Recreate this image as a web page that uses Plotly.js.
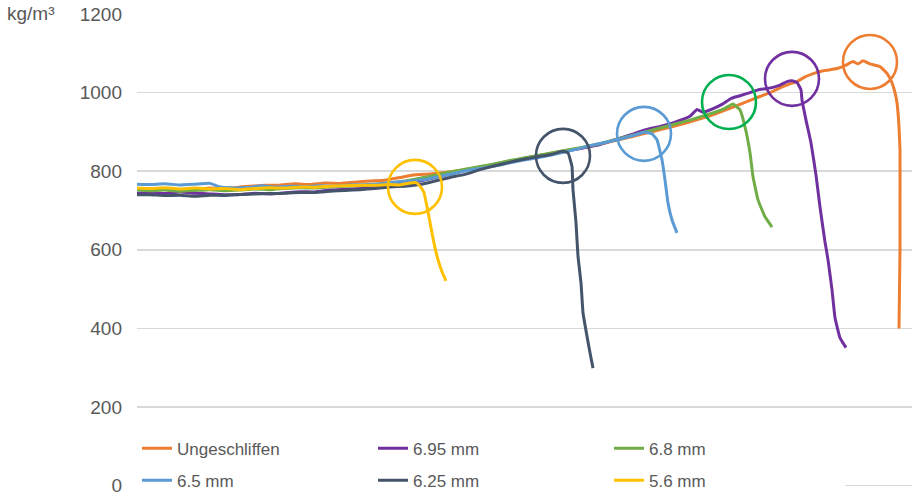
<!DOCTYPE html>
<html>
<head>
<meta charset="utf-8">
<script src="https://cdn.plot.ly/plotly-3.0.1.min.js"></script>
<style>
  html, body { margin: 0; padding: 0; background: #fff; }
  #chart { width: 917px; height: 497px; }
</style>
</head>
<body>
<div id="chart"></div>
<script>
// density profiles, position along the sample (no unit shown on the chart)
var seriesNames = ['Ungeschliffen', '6.95 mm', '6.8 mm', '6.5 mm', '6.25 mm', '5.6 mm'];

var posUngeschliffen = [0,13,28,43,58,73,88,103,113,128,143,158,173,188,203,218,233,248,263,278,293,308,323,338,353,368,383,398,413,428,443,458,473,488,503,518,533,548,563,578,593,608,623,633,643,653,660,668,677,685,693,701,709,716,721,726,733,743,750,755,758,760,762,763,763,763,762];
var rhoUngeschliffen = [755,754,756,752,754,757,755,760,762,764,765,768,766,770,769,772,775,777,784,791,793,797,802,808,814,822,830,838,845,852,858,866,875,884,893,902,912,922,933,945,960,975,990,1000,1012,1022,1028,1040,1049,1055,1058,1062,1070,1079,1073,1081,1073,1066,1049,1025,1000,974,913,854,720,600,400];

var pos695 = [0,13,28,43,58,73,88,103,118,133,148,163,178,193,208,223,238,253,268,283,298,313,328,343,358,373,388,403,418,433,448,463,478,493,508,523,538,553,560,566,575,585,594,603,613,621,629,637,643,650,655,660,664,665,669,674,679,683,688,691,695,698,703,709];
var rho695 = [744,745,743,747,744,742,740,741,744,742,745,748,747,752,754,756,758,762,768,775,784,793,802,810,818,826,833,840,846,853,860,868,880,892,905,914,925,940,957,950,958,970,985,992,1000,1007,1010,1014,1019,1028,1030,1026,1007,981,930,872,790,709,620,575,498,427,376,351];

var pos68 = [0,13,28,43,58,73,88,103,118,133,148,163,178,193,208,223,238,253,268,283,298,313,328,343,358,373,388,403,418,433,448,463,478,493,508,523,538,553,568,578,588,596,603,608,613,616,621,628,635];
var rho68 = [752,750,752,749,751,753,750,752,755,753,756,758,757,760,762,763,766,770,775,782,790,798,805,812,819,827,834,841,848,855,862,870,880,890,900,910,920,930,942,950,960,971,956,913,847,786,727,684,658];

var pos65 = [0,13,28,43,58,73,83,98,113,125,138,153,168,183,198,213,228,243,258,273,288,303,318,333,348,363,378,393,408,423,438,453,468,483,498,508,515,520,525,528,531,535,540];
var rho65 = [767,766,768,765,767,769,760,757,759,763,760,762,761,763,762,765,766,768,772,775,779,787,795,803,809,816,824,831,838,846,855,865,873,882,892,900,895,880,829,778,719,676,643];

var pos625 = [0,13,28,43,58,73,88,103,118,133,148,163,178,193,208,223,238,253,268,283,298,313,328,343,358,373,388,403,413,421,425,431,435,436,439,441,444,446,450,453,456];
var rho625 = [740,740,738,739,736,739,738,741,742,743,744,746,746,749,751,753,756,760,762,766,775,784,792,804,814,823,831,838,842,848,851,847,812,753,669,583,516,440,380,338,299];

var pos56 = [0,13,28,43,58,73,88,103,118,133,148,163,178,193,208,223,238,253,263,273,279,283,287,290,295,298,301,305,309];
var rho56 = [757,756,758,755,757,755,756,753,756,758,757,760,759,762,763,764,764,766,765,770,771,762,745,710,643,605,575,544,521];

// where each profile breaks off (circled on the chart)
var breakPos = [733, 655, 592, 507, 426, 278];
var breakRho = [1078, 1035, 976, 895, 839, 760];

var yTicks = [0, 200, 400, 600, 800, 1000, 1200];

var lineColors = ['#ED7D31', '#7030A0', '#70AD47', '#5B9BD5', '#44546A', '#FFC000'];
var circleColors = ['#ED7D31', '#7030A0', '#00B050', '#5B9BD5', '#44546A', '#FFC000'];

var xs = [posUngeschliffen, pos695, pos68, pos65, pos625, pos56];
var ys = [rhoUngeschliffen, rho695, rho68, rho65, rho625, rho56];

var traces = [];
for (var i = 0; i < seriesNames.length; i++) {
    traces.push({
        x: xs[i],
        y: ys[i],
        name: seriesNames[i],
        type: 'scatter',
        mode: 'lines',
        line: { color: lineColors[i], width: 3, shape: 'spline', smoothing: 0.3 },
        hoverinfo: 'skip',
        legend: i < 3 ? 'legend' : 'legend2'
    });
}
for (var j = 0; j < breakPos.length; j++) {
    traces.push({
        x: [breakPos[j]],
        y: [breakRho[j]],
        type: 'scatter',
        mode: 'markers',
        showlegend: false,
        hoverinfo: 'skip',
        marker: {
            symbol: 'circle-open',
            size: 54,
            color: circleColors[j],
            line: { color: circleColors[j], width: 2.6 }
        }
    });
}

var font = { family: 'Liberation Sans, Arial, sans-serif', color: '#595959' };

var legendBase = {
    orientation: 'h',
    x: 0,
    xanchor: 'left',
    yanchor: 'middle',
    entrywidth: 191,
    entrywidthmode: 'pixels',
    itemwidth: 30,
    bgcolor: '#ffffff',
    borderwidth: 0,
    font: { family: font.family, color: font.color, size: 17 }
};

var layout = {
    width: 917,
    height: 497,
    margin: { l: 137, r: 5, t: 13, b: 8.6, autoexpand: false },
    paper_bgcolor: '#ffffff',
    plot_bgcolor: '#ffffff',
    font: font,
    showlegend: true,
    legend: Object.assign({}, legendBase, { y: 0.083 }),
    legend2: Object.assign({}, legendBase, { y: 0.0156 }),
    xaxis: {
        range: [0, 775],
        showgrid: false,
        zeroline: false,
        showline: false,
        showticklabels: false,
        ticks: ''
    },
    yaxis: {
        range: [-6, 1202.5],
        tickvals: yTicks,
        ticktext: yTicks.map(String),
        showgrid: true,
        gridcolor: '#d9d9d9',
        gridwidth: 1.5,
        zeroline: false,
        showline: false,
        ticks: '',
        ticklabelstandoff: 14,
        tickfont: { family: font.family, color: font.color, size: 19 }
    },
    annotations: [{
        text: 'kg/m³',
        xref: 'paper',
        yref: 'y',
        x: -0.17,
        y: 1200,
        xanchor: 'left',
        yanchor: 'middle',
        showarrow: false,
        font: { family: font.family, color: font.color, size: 19 }
    }]
};

Plotly.newPlot('chart', traces, layout, { displayModeBar: false, staticPlot: true });
</script>
</body>
</html>
